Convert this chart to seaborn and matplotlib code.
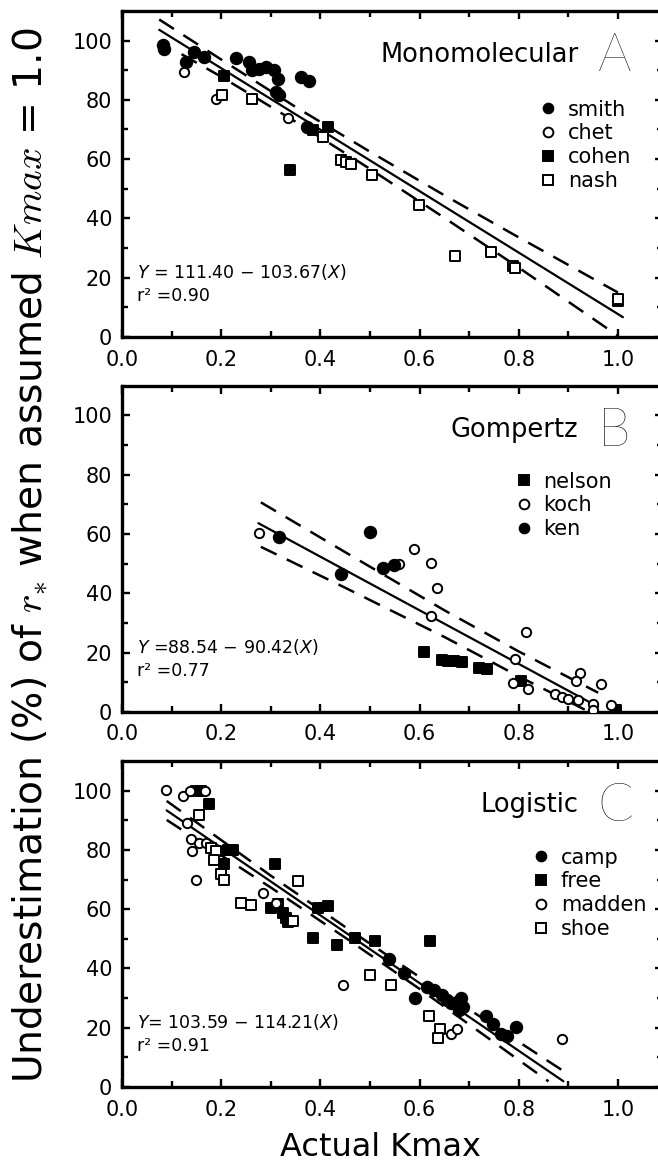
import numpy as np
import pandas as pd
import matplotlib.pyplot as plt
from matplotlib.lines import Line2D
import seaborn as sns

# ---- panel A : Monomolecular ----
smith_x = [0.082, 0.084, 0.129, 0.146, 0.166, 0.230, 0.257, 0.263, 0.277, 0.290,
           0.307, 0.314, 0.310, 0.317, 0.361, 0.378, 0.374]
smith_y = [98.5, 97.0, 92.7, 96.0, 94.6, 94.2, 92.7, 89.9, 90.5, 91.0,
           89.9, 87.1, 82.6, 81.5, 87.6, 86.5, 70.8]
chet_x = [0.126, 0.190, 0.334]
chet_y = [89.3, 80.4, 74.0]
cohen_x = [0.206, 0.339, 0.386, 0.415]
cohen_y = [88.2, 56.5, 69.7, 70.8]
nash_x = [0.201, 0.263, 0.405, 0.442, 0.452, 0.462, 0.505, 0.598, 0.672, 0.745,
          0.788, 0.792, 1.000, 1.000]
nash_y = [81.5, 80.4, 67.4, 59.6, 59.0, 58.5, 54.5, 44.6, 27.4, 28.6,
          24.0, 23.4, 12.0, 12.8]
fitA = (111.40, -103.67, 0.075, 1.01)
A_up_x = [0.075, 0.20, 0.35, 0.50, 0.65, 0.80, 1.00]
A_up_y = [107.1, 93.6, 77.6, 62.5, 47.8, 33.6, 15.0]
A_lo_x = [0.12, 0.20, 0.35, 0.50, 0.65, 0.80, 1.00]
A_lo_y = [95.4, 87.8, 72.6, 56.7, 40.2, 23.4, 0.4]

# ---- panel B : Gompertz ----
nelson_x = [0.608, 0.646, 0.658, 0.669, 0.685, 0.719, 0.735, 0.804, 0.996]
nelson_y = [20.3, 17.6, 17.3, 17.3, 16.8, 14.8, 14.6, 10.4, 0.5]
koch_x = [0.277, 0.559, 0.589, 0.623, 0.635, 0.623, 0.815, 0.792, 0.788, 0.819,
          0.873, 0.888, 0.900, 0.919, 0.923, 0.915, 0.965, 0.950, 0.950, 0.985]
koch_y = [60.5, 49.9, 54.9, 50.4, 41.8, 32.4, 27.1, 17.9, 9.9, 7.7,
          6.0, 4.9, 4.4, 4.0, 13.2, 10.4, 9.3, 2.7, 0.5, 2.2]
ken_x = [0.317, 0.442, 0.500, 0.526, 0.549]
ken_y = [59.1, 46.5, 60.8, 48.5, 49.7]
fitB = (88.54, -90.42, 0.275, 0.96)
B_up_x = [0.28, 0.45, 0.65, 0.80, 0.96]
B_up_y = [70.7, 53.9, 34.3, 20.4, 6.5]
B_lo_x = [0.28, 0.45, 0.65, 0.80, 0.94]
B_lo_y = [55.7, 41.9, 25.3, 12.0, 0.2]

# ---- panel C : Logistic ----
camp_x = [0.539, 0.568, 0.591, 0.614, 0.629, 0.645, 0.656, 0.664, 0.676, 0.683,
          0.687, 0.679, 0.734, 0.749, 0.764, 0.776, 0.795]
camp_y = [43.2, 38.5, 29.9, 33.9, 32.8, 31.0, 29.3, 28.2, 28.7, 29.9,
          27.0, 25.9, 24.1, 21.3, 17.8, 17.2, 20.1]
free_x = [0.149, 0.159, 0.176, 0.213, 0.223, 0.206, 0.309, 0.300, 0.314, 0.324,
          0.331, 0.334, 0.395, 0.415, 0.385, 0.434, 0.470, 0.510, 0.622]
free_y = [100.0, 100.0, 95.4, 80.1, 80.1, 75.1, 75.1, 60.5, 61.6, 58.8,
          57.1, 55.5, 60.5, 61.1, 50.2, 48.0, 50.2, 49.1, 49.1]
madden_x = [0.089, 0.122, 0.138, 0.167, 0.132, 0.139, 0.156, 0.169, 0.142, 0.149,
            0.284, 0.310, 0.446, 0.664, 0.676, 0.888]
madden_y = [100.2, 98.3, 99.9, 99.9, 89.0, 83.5, 82.3, 82.3, 79.5, 69.7,
            65.5, 62.0, 34.5, 17.8, 19.5, 16.1]
shoe_x = [0.156, 0.179, 0.190, 0.186, 0.200, 0.206, 0.240, 0.261, 0.344, 0.354,
          0.500, 0.543, 0.618, 0.641, 0.637]
shoe_y = [91.8, 80.6, 79.5, 76.7, 71.7, 70.0, 62.2, 61.4, 56.0, 69.5,
          37.9, 34.5, 24.1, 19.5, 16.7]
fitC = (103.59, -114.21, 0.09, 0.89)
C_up_x = [0.09, 0.30, 0.45, 0.60, 0.89]
C_up_y = [96.5, 71.3, 54.0, 37.1, 5.4]
C_lo_x = [0.09, 0.30, 0.45, 0.60, 0.86]
C_lo_y = [90.1, 67.3, 50.4, 33.1, 1.9]

STYLE = {'fcirc': ('o', 'black', 68), 'ocirc': ('o', 'white', 45),
         'fsq': ('s', 'black', 60), 'osq': ('s', 'white', 50)}

panels = [
    dict(name='Monomolecular', letter='A', fit=fitA,
         eq=r'$Y$ = 111.40 − 103.67($X$)', r2='r² =0.90',
         up=(A_up_x, A_up_y), lo=(A_lo_x, A_lo_y),
         series=[('smith', smith_x, smith_y, 'fcirc'), ('chet', chet_x, chet_y, 'ocirc'),
                 ('cohen', cohen_x, cohen_y, 'fsq'), ('nash', nash_x, nash_y, 'osq')],
         leg=(0.769, 0.728)),
    dict(name='Gompertz', letter='B', fit=fitB,
         eq=r'$Y$ =88.54 − 90.42($X$)', r2='r² =0.77',
         up=(B_up_x, B_up_y), lo=(B_lo_x, B_lo_y),
         series=[('nelson', nelson_x, nelson_y, 'fsq'), ('koch', koch_x, koch_y, 'ocirc'),
                 ('ken', ken_x, ken_y, 'fcirc')],
         leg=(0.724, 0.737)),
    dict(name='Logistic', letter='C', fit=fitC,
         eq=r'$Y$= 103.59 − 114.21($X$)', r2='r² =0.91',
         up=(C_up_x, C_up_y), lo=(C_lo_x, C_lo_y),
         series=[('camp', camp_x, camp_y, 'fcirc'), ('free', free_x, free_y, 'fsq'),
                 ('madden', madden_x, madden_y, 'ocirc'), ('shoe', shoe_x, shoe_y, 'osq')],
         leg=(0.756, 0.734)),
]

sns.set_style('ticks')
plt.rcParams['font.family'] = ['DejaVu Sans']
plt.rcParams['mathtext.fontset'] = 'dejavusans'
for k in ('text.color', 'axes.labelcolor', 'xtick.color', 'ytick.color', 'axes.edgecolor'):
    plt.rcParams[k] = 'black'

fig = plt.figure(figsize=(6.58, 11.71), dpi=100)
left, width, height = 0.1854, 0.8216, 0.2785
bottoms = [0.7122, 0.3920, 0.0717]
dash = (0, (7, 4.5))

for p, b in zip(panels, bottoms):
    ax = fig.add_axes([left, b, width, height])
    b0, b1, x0, x1 = p['fit']
    fit = pd.DataFrame({'x': [x0, x1]})
    fit['y'] = b0 + b1 * fit['x']
    sns.lineplot(data=fit, x='x', y='y', ax=ax, color='black', lw=1.6,
                 estimator=None, sort=False)
    for xs, ys in (p['up'], p['lo']):
        sns.lineplot(x=xs, y=ys, ax=ax, color='black', lw=1.8, linestyle=dash,
                     estimator=None, sort=False)
    handles = []
    for label, xs, ys, st in p['series']:
        mk, fc, s = STYLE[st]
        sns.scatterplot(x=xs, y=ys, ax=ax, marker=mk, s=s, facecolor=fc,
                        edgecolor='black', linewidth=1.4, zorder=3)
        handles.append(Line2D([], [], ls='none', marker=mk, markersize=7,
                              markerfacecolor=fc, markeredgecolor='black',
                              markeredgewidth=1.4, label=label))
    ax.legend(handles=handles, loc='upper left', bbox_to_anchor=p['leg'],
              frameon=False, fontsize=15, handlelength=1.0, handletextpad=0.45,
              labelspacing=0.18, borderpad=0, borderaxespad=0)

    ax.set_xlim(0, 1.09)
    ax.set_ylim(0, 110)
    ax.set_xticks(np.arange(0, 1.01, 0.2))
    ax.set_xticklabels([f'{v:.1f}' for v in np.arange(0, 1.01, 0.2)])
    ax.set_xticks(np.arange(0.1, 1.01, 0.2), minor=True)
    ax.set_yticks(np.arange(0, 101, 20))
    ax.set_yticks(np.arange(10, 101, 20), minor=True)
    ax.tick_params(which='both', direction='in', top=True, right=True,
                   width=1.7, labelsize=15)
    ax.tick_params(axis='x', which='both', pad=9)
    ax.tick_params(axis='y', which='both', pad=7)
    ax.tick_params(which='major', length=5.5)
    ax.tick_params(which='minor', length=4.5)
    for sp in ax.spines.values():
        sp.set_linewidth(2.4)
    ax.set_xlabel('')
    ax.set_ylabel('')

    ax.text(0.844, 0.866, p['name'], transform=ax.transAxes, ha='right',
            va='center', fontsize=18.5)
    ax.text(0.88, 0.86, p['letter'], transform=ax.transAxes, ha='left',
            va='center', fontsize=38, family=['Lato', 'DejaVu Sans'],
            fontweight='light')
    ax.text(0.028, 0.20, p['eq'], transform=ax.transAxes, ha='left',
            va='center', fontsize=12.5)
    ax.text(0.028, 0.125, p['r2'], transform=ax.transAxes, ha='left',
            va='center', fontsize=12.5)

fig.text(0.578, 0.02, 'Actual Kmax', ha='center', va='center', fontsize=23)
fig.text(0.046, 0.526, r'Underestimation (%) of $r_{\ast}$ when assumed $Kmax$ = 1.0',
         rotation=90, ha='center', va='center', fontsize=28.3,
         math_fontfamily='cm')

fig.savefig('out.png', dpi=100)
